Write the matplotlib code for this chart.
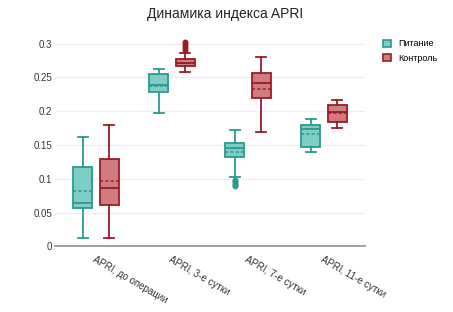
import matplotlib
matplotlib.use("Agg")
import matplotlib.pyplot as plt
from matplotlib.patches import Patch

plt.rcParams['font.family'] = ['Liberation Sans', 'DejaVu Sans']

categories = ["APRI, до операции", "APRI, 3-е сутки", "APRI, 7-е сутки", "APRI, 11-е сутки"]
series_names = ["Питание", "Контроль"]

pit_low = [0.012, 0.197, 0.102, 0.139]
pit_q1 = [0.0565, 0.229, 0.132, 0.147]
pit_med = [0.065, 0.239, 0.146, 0.173]
pit_mean = [0.0825, 0.237, 0.140, 0.166]
pit_q3 = [0.118, 0.255, 0.153, 0.179]
pit_high = [0.1615, 0.262, 0.172, 0.188]
pit_out = [[], [], [0.089, 0.091, 0.093, 0.095, 0.097, 0.099], []]

ctl_low = [0.012, 0.2585, 0.169, 0.175]
ctl_q1 = [0.0615, 0.267, 0.219, 0.184]
ctl_med = [0.087, 0.2715, 0.2415, 0.199]
ctl_mean = [0.097, 0.2705, 0.2325, 0.197]
ctl_q3 = [0.130, 0.277, 0.257, 0.209]
ctl_high = [0.180, 0.2855, 0.280, 0.217]
ctl_out = [[], [0.290, 0.293, 0.296, 0.299, 0.302], [], []]

yticks = [0, 0.05, 0.1, 0.15, 0.2, 0.25, 0.3]
ytick_labels = ["0", "0.05", "0.1", "0.15", "0.2", "0.25", "0.3"]

edge_colors = ["#2a9a92", "#981c26"]
fill_colors = ["#7fcdc7", "#d27b7e"]


def make_stats(low, q1, med, mean, q3, high, out):
    return [dict(whislo=low[i], q1=q1[i], med=med[i], mean=mean[i], q3=q3[i],
                 whishi=high[i], fliers=out[i]) for i in range(len(low))]


stats = [
    make_stats(pit_low, pit_q1, pit_med, pit_mean, pit_q3, pit_high, pit_out),
    make_stats(ctl_low, ctl_q1, ctl_med, ctl_mean, ctl_q3, ctl_high, ctl_out),
]

fig = plt.figure(figsize=(4.53, 3.12), dpi=100)
ax = fig.add_axes([55 / 453, 0.21, 310 / 453, 0.683])

offsets = [-0.176, 0.176]
for s in range(2):
    ec = edge_colors[s]
    pos = [i + offsets[s] for i in range(len(categories))]
    ax.bxp(stats[s], positions=pos, widths=0.255, patch_artist=True,
           showmeans=True, meanline=True, showfliers=True,
           boxprops=dict(facecolor=fill_colors[s], edgecolor=ec, linewidth=1.3),
           medianprops=dict(color=ec, linewidth=1.3),
           meanprops=dict(color=ec, linewidth=1.1, linestyle=(0, (2, 1.5))),
           whiskerprops=dict(color=ec, linewidth=1.3),
           capprops=dict(color=ec, linewidth=1.3),
           flierprops=dict(marker='o', markersize=3.2, markerfacecolor=ec,
                           markeredgecolor=ec),
           capwidths=0.13, zorder=3)

ax.set_xlim(-0.54, len(categories) - 0.46)
ax.set_ylim(0, 0.315)
ax.set_yticks(yticks)
ax.set_yticklabels(ytick_labels, fontsize=7, color='#333333')
ax.set_xticks(range(len(categories)))
ax.set_xticklabels(categories, fontsize=7, color='#333333', rotation=-30,
                   ha='left', va='top', rotation_mode='anchor')
ax.tick_params(axis='y', length=0, pad=2)
ax.tick_params(axis='x', length=0, pad=6)
ax.grid(axis='y', color='#eeeeee', linewidth=0.9, zorder=0)
ax.set_axisbelow(True)
for sp in ['top', 'right', 'left']:
    ax.spines[sp].set_visible(False)
ax.spines['bottom'].set_color('#999999')
ax.spines['bottom'].set_linewidth(1.3)

fig.suptitle("Динамика индекса APRI", x=0.497, y=0.978, fontsize=10, color='#222222')

handles = [Patch(facecolor=fill_colors[i], edgecolor=edge_colors[i], linewidth=1.2,
                 label=series_names[i]) for i in range(2)]
fig.legend(handles=handles, loc='upper left', bbox_to_anchor=(0.838, 0.885),
           frameon=False, fontsize=6.5, handlelength=0.85, handleheight=0.85,
           handletextpad=0.8, labelspacing=0.6, borderaxespad=0)

fig.savefig("out.png", dpi=100)
